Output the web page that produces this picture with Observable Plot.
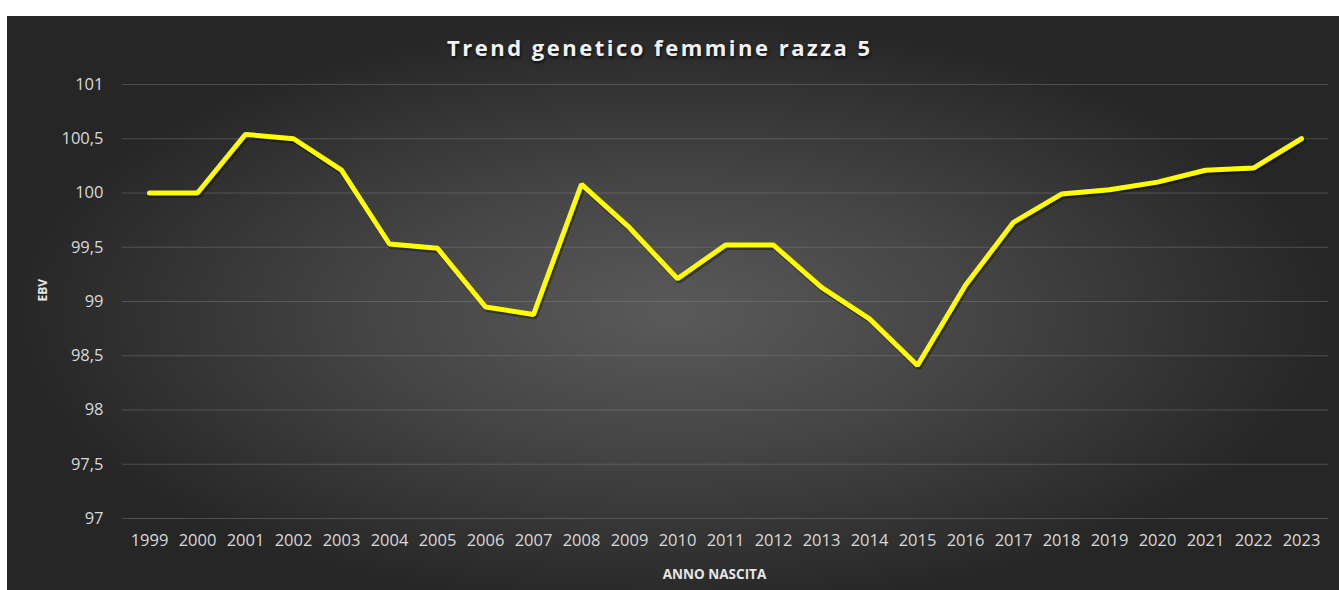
<!DOCTYPE html>
<html>
<head>
<meta charset="utf-8">
<script src="https://cdn.jsdelivr.net/npm/d3@7"></script>
<script src="https://cdn.jsdelivr.net/npm/@observablehq/plot@0.6"></script>
<style>
  html, body { margin: 0; padding: 0; background: #ffffff; }
  #chart {
    position: absolute; left: 7px; top: 16px; width: 1332px; height: 574px;
    background: radial-gradient(ellipse farthest-side at 50% 52%, #5a5a5a 0%, #454545 45%, #262626 100%);
    font-family: "Open Sans", sans-serif;
  }
  #title {
    height: 52px; box-sizing: border-box; padding-top: 16px; line-height: 30px;
    font-size: 22px; font-weight: bold; letter-spacing: 2.5px; color: #f2f2f2;
    text-shadow: 1px 2px 3px rgba(0,0,0,0.7);
    text-align: left; padding-left: 440px; white-space: nowrap;
  }
  svg { display: block; }
</style>
</head>
<body>
<div id="chart">
  <div id="title">Trend genetico femmine razza 5</div>
</div>
<script>
const years = ["1999","2000","2001","2002","2003","2004","2005","2006","2007","2008","2009","2010","2011","2012","2013","2014","2015","2016","2017","2018","2019","2020","2021","2022","2023"];
const ebv = [100.0, 100.0, 100.54, 100.5, 100.21, 99.53, 99.49, 98.95, 98.88, 100.08, 99.68, 99.21, 99.52, 99.52, 99.13, 98.84, 98.41, 99.15, 99.73, 99.99, 100.03, 100.1, 100.21, 100.23, 100.5];
const yTicks = [97, 97.5, 98, 98.5, 99, 99.5, 100, 100.5, 101];
const xLabel = "ANNO NASCITA";
const yLabel = "EBV";

const data = years.map((y, i) => ({year: y, value: ebv[i]}));
const fmt = d => String(d).replace(".", ",");

const plot = Plot.plot({
  width: 1332,
  height: 522,
  marginTop: 16,
  marginBottom: 72,
  marginLeft: 115,
  marginRight: 11,
  style: {background: "transparent", color: "#d9d9d9", fontFamily: "'Open Sans', sans-serif", fontSize: "16.5px"},
  x: {type: "point", domain: years, padding: 0.5, label: null, tickSize: 0, tickPadding: 16},
  y: {domain: [97, 101], ticks: yTicks, tickFormat: fmt, label: null, tickSize: 0, tickPadding: 19},
  marks: [
    Plot.gridY(yTicks, {stroke: "#8a8a8a", strokeOpacity: 0.4, strokeWidth: 1}),
    Plot.line(data, {x: "year", y: "value", stroke: "#000", strokeOpacity: 0.35, strokeWidth: 6, dx: 1.5, dy: 2, strokeLinejoin: "miter"}),
    Plot.line(data, {x: "year", y: "value", stroke: "#ffff00", strokeWidth: 5, strokeLinejoin: "miter", strokeLinecap: "round"}),
    Plot.text([yLabel], {frameAnchor: "left", dx: -79, rotate: -90, fill: "#e6e6e6", fontWeight: "bold", fontSize: 12}),
    Plot.text([xLabel], {frameAnchor: "bottom", dy: 60, dx: -11, fill: "#e6e6e6", fontWeight: "bold", fontSize: 13.5})
  ]
});
document.getElementById("chart").appendChild(plot);
</script>
</body>
</html>
